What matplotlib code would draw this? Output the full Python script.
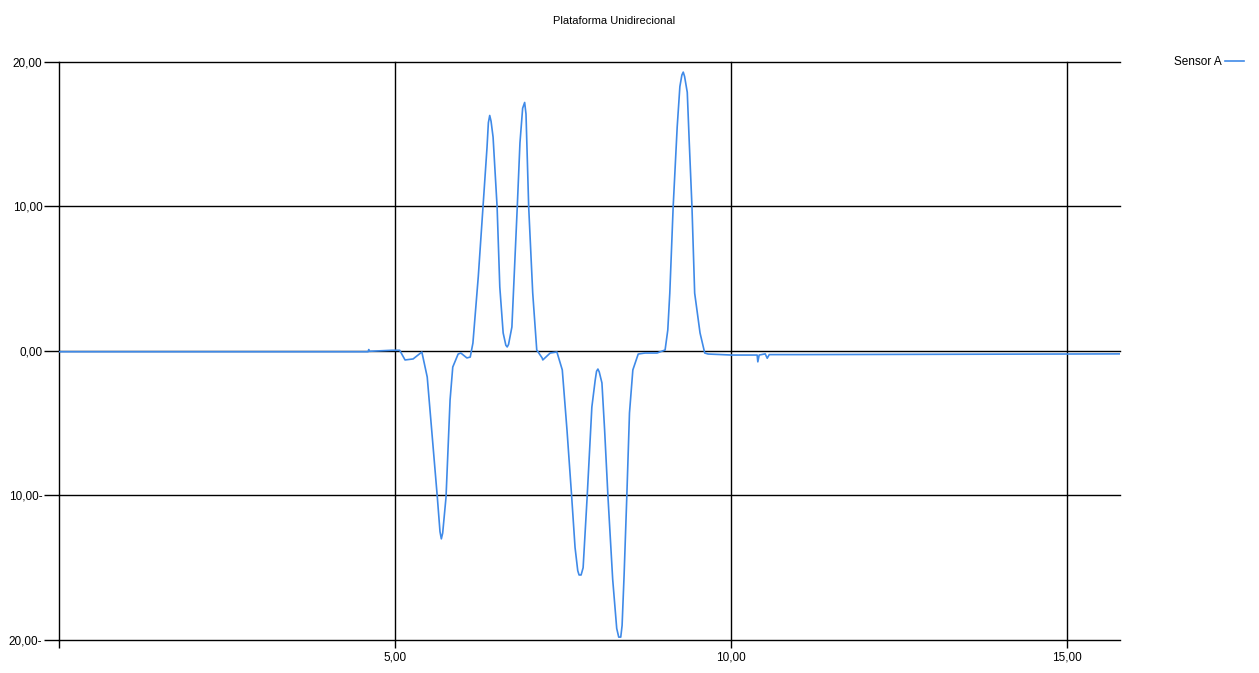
from matplotlib import pyplot as plt

# tempo (s) e leitura do sensor A
tempo = [0.00, 3.59, 4.60, 4.61, 4.62, 4.955, 5.07, 5.15, 5.27, 5.40, 5.48, 5.55, 5.63, 5.67,
         5.69, 5.71, 5.76, 5.82, 5.86, 5.94, 5.98, 6.07, 6.12, 6.16, 6.24, 6.31, 6.37, 6.39,
         6.41, 6.43, 6.46, 6.52, 6.56, 6.61, 6.65, 6.67, 6.69, 6.74, 6.82, 6.86, 6.90, 6.93,
         6.95, 6.99, 7.05, 7.11, 7.19, 7.20, 7.31, 7.41, 7.49, 7.56, 7.63, 7.68, 7.72, 7.74,
         7.77, 7.80, 7.86, 7.93, 7.98, 8.00, 8.02, 8.04, 8.08, 8.12, 8.17, 8.24, 8.30, 8.33,
         8.36, 8.38, 8.41, 8.45, 8.49, 8.54, 8.62, 8.72, 8.90, 9.02, 9.06, 9.09, 9.14, 9.20,
         9.24, 9.27, 9.29, 9.31, 9.35, 9.38, 9.42, 9.46, 9.54, 9.61, 9.66, 10.01, 10.39, 10.40,
         10.42, 10.51, 10.54, 10.57, 11.03, 15.79]
sensor_a = [-0.05, -0.05, -0.05, 0.10, -0.02, 0.05, 0.05, -0.62, -0.55, -0.07, -1.80, -5.67,
            -10.1, -12.5, -13.0, -12.6, -10.1, -3.39, -1.11, -0.21, -0.14, -0.48, -0.42, 0.55,
            5.16, 9.97, 14.1, 15.8, 16.3, 15.9, 14.8, 9.97, 4.43, 1.25, 0.40, 0.28, 0.45, 1.66,
            9.97, 14.4, 16.8, 17.2, 16.4, 9.97, 4.01, 0.07, -0.48, -0.62, -0.14, -0.07, -1.31,
            -5.47, -10.1, -13.6, -15.2, -15.5, -15.5, -15.0, -10.1, -3.88, -2.01, -1.40, -1.25,
            -1.45, -2.21, -5.47, -10.1, -15.8, -19.2, -19.8, -19.8, -19.0, -15.5, -10.1, -4.29,
            -1.31, -0.21, -0.14, -0.14, 0.07, 1.45, 4.01, 9.97, 15.5, 18.3, 19.1, 19.3, 19.0,
            17.9, 14.4, 9.97, 4.01, 1.25, -0.14, -0.21, -0.28, -0.28, -0.75, -0.28, -0.20, -0.50,
            -0.25, -0.25, -0.20]

y_ticks = [20, 10, 0, -10, -20]
y_labels = ["20,00", "10,00", "0,00", "10,00-", "20,00-"]
x_ticks = [0, 5, 10, 15]
x_labels = ["", "5,00", "10,00", "15,00"]

plt.rcParams['font.family'] = ['Liberation Sans', 'DejaVu Sans']

fig = plt.figure(figsize=(12.59, 6.73), dpi=100)
ax = fig.add_axes([59 / 1259, 1 - 640 / 673, (1120 - 59) / 1259, (640 - 62) / 673])

ax.plot(tempo, sensor_a, color='#3f8ae8', linewidth=1.2, label="Sensor A")

ax.set_xlim(0, 15.79)
ax.set_ylim(-20, 20)
for s in ['top', 'right', 'bottom', 'left']:
    ax.spines[s].set_visible(False)

ax.set_yticks(y_ticks, labels=y_labels)
ax.set_xticks(x_ticks, labels=x_labels)
ax.tick_params(axis='y', length=11, width=1, pad=1, labelsize=8.5, color='black')
ax.tick_params(axis='x', length=6, width=1, pad=2, labelsize=8.5, color='black')
ax.grid(True, color='black', linewidth=1)
ax.set_axisbelow(True)
for gl in ax.get_xgridlines() + ax.get_ygridlines():
    gl.set_clip_on(False)

fig.text(614 / 1259, 1 - 21 / 673, "Plataforma Unidirecional", ha='center', va='center', fontsize=8)

ax.legend(loc='center left', bbox_to_anchor=(1163 / 1259, 1 - 62 / 673), bbox_transform=fig.transFigure,
          frameon=False, markerfirst=False, handlelength=1.6, handletextpad=0.3, fontsize=8.5)

plt.savefig('out.png', dpi=100)
